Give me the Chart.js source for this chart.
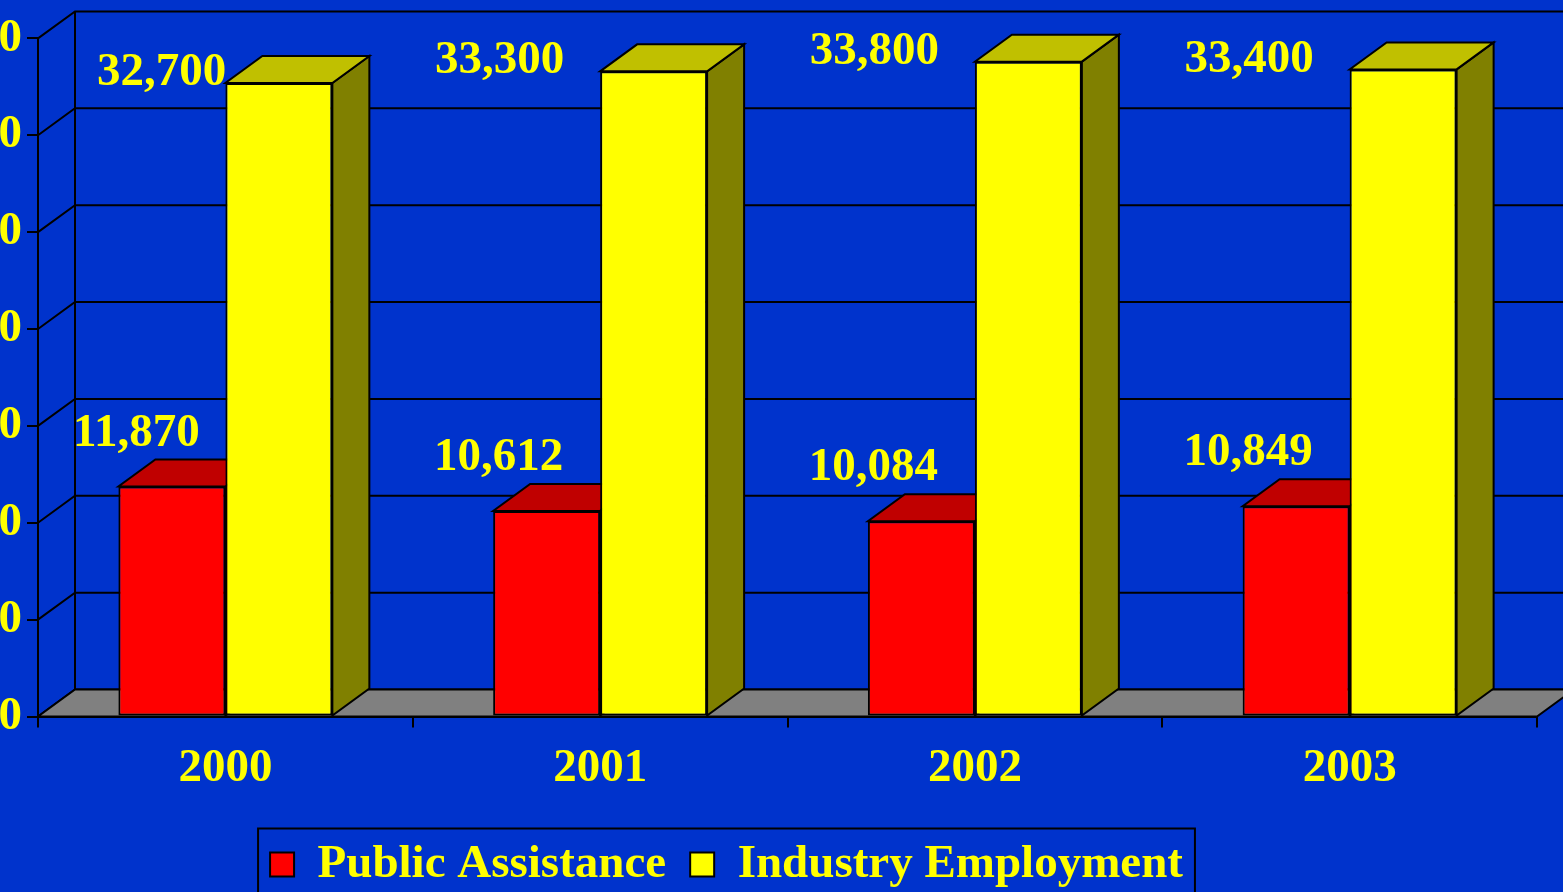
<!DOCTYPE html>
<html lang="en">
<head>
    <meta charset="UTF-8">
    <title>Public Assistance vs Industry Employment</title>
    <script src="https://cdn.jsdelivr.net/npm/chart.js"></script>
    <style>
        html, body { margin: 0; padding: 0; overflow: hidden; background: #0033cc; }
        #wrap { position: relative; width: 1563px; height: 892px; overflow: hidden; }
        #chart { position: absolute; left: -200px; top: 0; }
    </style>
</head>
<body>
    <div id="wrap">
        <canvas id="chart" width="1853" height="898"></canvas>
    </div>

    <script>
        // data
        const years = ['2000', '2001', '2002', '2003'];
        const publicAssistance = [11870, 10612, 10084, 10849];
        const industryEmployment = [32700, 33300, 33800, 33400];

        const YELLOW = '#ffff00';
        const FONT = { family: "'Liberation Serif', 'Times New Roman', serif", size: 47, weight: 'bold' };
        const DX = 37, DY = -27;   // depth of the 3d boxes

        function poly(ctx, pts) {
            ctx.beginPath();
            ctx.moveTo(pts[0][0], pts[0][1]);
            for (let i = 1; i < pts.length; i++) ctx.lineTo(pts[i][0], pts[i][1]);
            ctx.closePath();
            ctx.fill();
            ctx.stroke();
        }

        // back wall, floor and the top/side faces of the boxes
        const box3d = {
            id: 'box3d',
            beforeDatasetsDraw(chart) {
                const ctx = chart.ctx, a = chart.chartArea, y = chart.scales.y;
                ctx.save();
                ctx.lineWidth = 2;
                ctx.strokeStyle = '#000';
                ctx.lineJoin = 'miter';

                y.ticks.forEach(t => {
                    const py = y.getPixelForValue(t.value);
                    ctx.beginPath();
                    ctx.moveTo(a.left, py);
                    ctx.lineTo(a.left + DX, py + DY);
                    ctx.lineTo(chart.width, py + DY);
                    ctx.stroke();
                });
                ctx.beginPath();
                ctx.moveTo(a.left + DX, a.top + DY);
                ctx.lineTo(a.left + DX, a.bottom + DY);
                ctx.stroke();

                ctx.fillStyle = '#808080';
                poly(ctx, [[a.left, a.bottom], [a.right, a.bottom], [a.right + DX, a.bottom + DY], [a.left + DX, a.bottom + DY]]);

                chart.data.datasets.forEach((ds, i) => {
                    chart.getDatasetMeta(i).data.forEach(bar => {
                        const l = bar.x - bar.width / 2, r = bar.x + bar.width / 2;
                        const t = bar.y, b = bar.base;
                        ctx.fillStyle = ds.sideColor;
                        poly(ctx, [[r, t], [r + DX, t + DY], [r + DX, b + DY], [r, b]]);
                        ctx.fillStyle = ds.topColor;
                        poly(ctx, [[l, t], [r, t], [r + DX, t + DY], [l + DX, t + DY]]);
                    });
                });
                ctx.restore();
            },
            afterDatasetsDraw(chart) {
                const ctx = chart.ctx;
                ctx.save();
                ctx.font = `${FONT.weight} ${FONT.size}px ${FONT.family}`;
                ctx.fillStyle = YELLOW;
                ctx.textAlign = 'center';
                ctx.textBaseline = 'middle';
                chart.data.datasets.forEach((ds, i) => {
                    chart.getDatasetMeta(i).data.forEach((bar, j) => {
                        const txt = ds.data[j].toLocaleString('en-US');
                        const w = ctx.measureText(txt).width;
                        let cx = bar.x + ds.labelShift;
                        cx = Math.max(cx, ds.labelMinLeft + w / 2);
                        ctx.fillText(txt, cx, bar.y + ds.labelLift);
                    });
                });
                ctx.restore();
            },
            afterDraw(chart) {
                // frame round the legend
                const lg = chart.legend, hb = lg.legendHitBoxes;
                if (!hb || !hb.length) return;
                const last = hb[hb.length - 1];
                const l = hb[0].left - 12, r = last.left + last.width + 12;
                const ctx = chart.ctx;
                ctx.save();
                ctx.strokeStyle = '#000';
                ctx.lineWidth = 2;
                ctx.strokeRect(l, lg.top + 11.5, r - l, 200);
                ctx.restore();
            }
        };

        const ctx = document.getElementById('chart').getContext('2d');
        new Chart(ctx, {
            type: 'bar',
            data: {
                labels: years,
                datasets: [{
                    label: 'Public Assistance',
                    data: publicAssistance,
                    backgroundColor: '#ff0000',
                    topColor: '#c00000',
                    sideColor: '#800000',
                    labelShift: -48,
                    labelLift: -53,
                    labelMinLeft: 273,
                    borderColor: '#000',
                    borderWidth: 2,
                    borderSkipped: false
                }, {
                    label: 'Industry Employment',
                    data: industryEmployment,
                    backgroundColor: YELLOW,
                    topColor: '#c0c000',
                    sideColor: '#808000',
                    labelShift: -154,
                    labelMinLeft: 297,
                    labelLift: -10,
                    borderColor: '#000',
                    borderWidth: 2,
                    borderSkipped: false
                }]
            },
            options: {
                responsive: false,
                animation: false,
                layout: { padding: { top: 38.4 } },
                datasets: { bar: { categoryPercentage: 0.571, barPercentage: 1 } },
                plugins: {
                    tooltip: { enabled: false },
                    legend: {
                        position: 'bottom',
                        labels: { color: YELLOW, font: FONT, boxWidth: 24, boxHeight: 24, padding: 24 }
                    }
                },
                scales: {
                    x: {
                        offset: true,
                        grid: { offset: true, drawOnChartArea: false, color: '#000', lineWidth: 2, tickLength: 11 },
                        border: { color: '#000', width: 2 },
                        ticks: { color: YELLOW, font: FONT, padding: 13, maxRotation: 0 },
                        afterFit: s => { s.height = 100.5; }
                    },
                    y: {
                        min: 0,
                        max: 35000,
                        ticks: { stepSize: 5000, color: YELLOW, font: FONT, padding: 5 },
                        grid: { drawOnChartArea: false, color: '#000', lineWidth: 2, tickLength: 11 },
                        border: { color: '#000', width: 2 },
                        afterFit: s => { s.width = 238; }
                    },
                    y2: {
                        position: 'right',
                        min: 0,
                        max: 1,
                        grid: { display: false },
                        ticks: { display: false },
                        border: { display: false },
                        afterFit: s => { s.width = 116; }
                    }
                }
            },
            plugins: [box3d]
        });
    </script>
</body>
</html>
